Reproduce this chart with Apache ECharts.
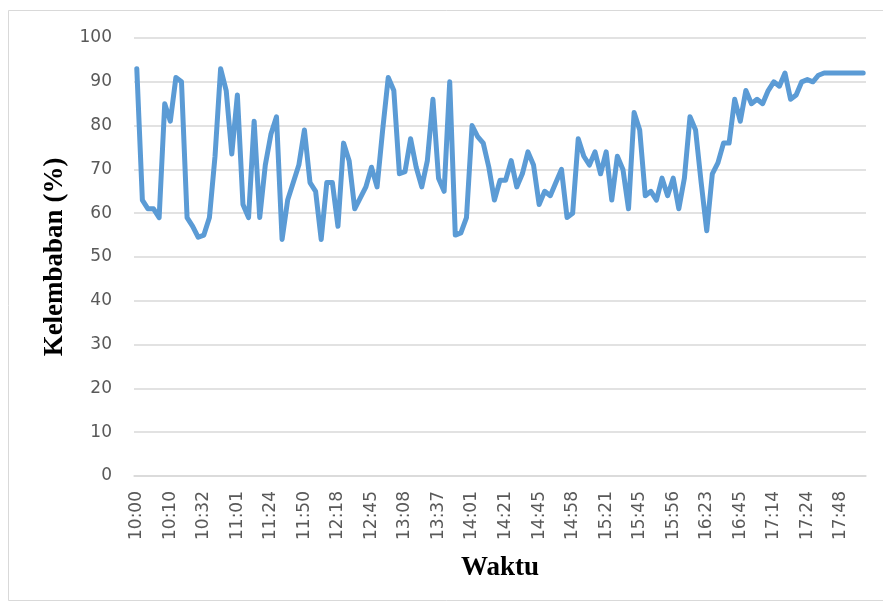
<!DOCTYPE html>
<html>
<head>
<meta charset="utf-8">
<script src="https://cdn.jsdelivr.net/npm/echarts@6/dist/echarts.min.js"></script>
<style>
  html, body { margin: 0; padding: 0; background: #fff; }
  #main { width: 883px; height: 607px; }
</style>
</head>
<body>
<div id="main"></div>
<script>
// label jam yang tampil di sumbu x (tiap 6 data)
var tickLabels = ['10:00','10:10','10:32','11:01','11:24','11:50','12:18','12:45','13:08','13:37','14:01',
    '14:21','14:45','14:58','15:21','15:45','15:56','16:23','16:45','17:14','17:24','17:48'];

// kelembaban (%) tiap pengukuran
var kelembaban = [
    93, 63, 61, 61, 59, 85, 81, 91, 90, 59,
    57, 54.5, 55, 59, 73, 93, 88, 73.5, 87, 62,
    59, 81, 59, 71, 78, 82, 54, 63, 67, 71,
    79, 67, 65, 54, 67, 67, 57, 76, 72, 61,
    63.5, 66, 70.5, 66, 79, 91, 88, 69, 69.5, 77,
    70.5, 66, 72, 86, 68, 65, 90, 55, 55.5, 59,
    80, 77.5, 76, 70.5, 63, 67.5, 67.5, 72, 66, 69,
    74, 71, 62, 65, 64, 67, 70, 59, 60, 77,
    73, 71, 74, 69, 74, 63, 73, 70, 61, 83,
    79, 64, 65, 63, 68, 64, 68, 61, 68, 82,
    79, 67, 56, 69, 71.5, 76, 76, 86, 81, 88,
    85, 86, 85, 88, 90, 89, 92, 86, 87, 90,
    90.5, 90, 91.5, 92, 92, 92, 92, 92, 92, 92,
    92
];

var categories = [];
for (var i = 0; i < kelembaban.length; i++) {
    categories.push(i % 6 === 0 ? tickLabels[i / 6] : '');
}

var myChart = echarts.init(document.getElementById('main'));
var option = {
    animation: false,
    backgroundColor: '#fff',
    grid: {
        left: 134,
        right: 17,
        top: 38,
        bottom: 131
    },
    graphic: [{
        type: 'rect',
        shape: { x: 8.5, y: 10.5, width: 880, height: 590 },
        style: { fill: 'none', stroke: '#d9d9d9', lineWidth: 1 },
        silent: true
    }],
    xAxis: {
        type: 'category',
        data: categories,
        boundaryGap: true,
        name: 'Waktu',
        nameLocation: 'middle',
        nameGap: 79,
        nameTextStyle: {
            fontFamily: 'Liberation Serif',
            fontWeight: 'bold',
            fontSize: 27,
            color: '#000',
            verticalAlign: 'top'
        },
        axisLine: { lineStyle: { color: '#d9d9d9', width: 1.5 } },
        axisTick: { show: false },
        axisLabel: {
            interval: 5,
            rotate: 90,
            margin: 15,
            fontFamily: 'DejaVu Sans',
            fontSize: 17,
            color: '#595959'
        }
    },
    yAxis: {
        type: 'value',
        min: 0,
        max: 100,
        interval: 10,
        name: 'Kelembaban (%)',
        nameLocation: 'middle',
        nameGap: 64,
        nameTextStyle: {
            fontFamily: 'Liberation Serif',
            fontWeight: 'bold',
            fontSize: 27,
            color: '#000'
        },
        axisLine: { show: false },
        axisTick: { show: false },
        axisLabel: {
            margin: 22,
            fontFamily: 'DejaVu Sans',
            fontSize: 17,
            color: '#595959'
        },
        splitLine: { lineStyle: { color: '#d9d9d9', width: 1.5 } }
    },
    series: [{
        name: 'Kelembaban',
        type: 'line',
        data: kelembaban,
        showSymbol: false,
        symbol: 'none',
        lineStyle: { color: '#5b9bd5', width: 5, cap: 'round', join: 'round' }
    }]
};
myChart.setOption(option);
</script>
</body>
</html>
